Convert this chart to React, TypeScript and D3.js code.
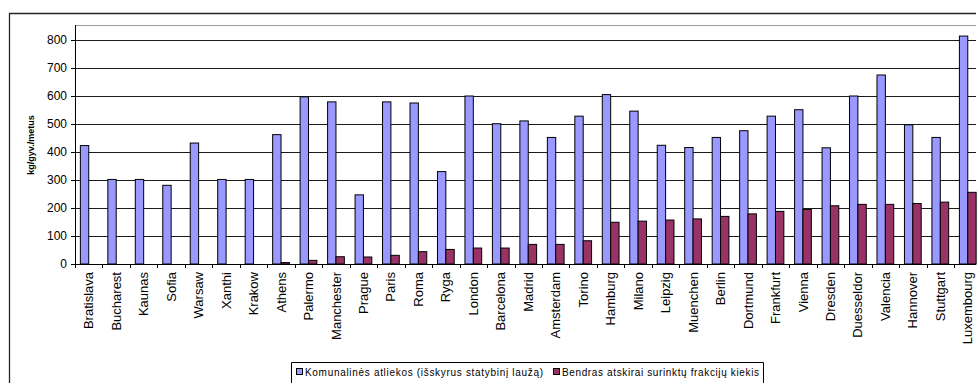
import React from "react";
import * as d3 from "d3";

// Cities, in the order they appear along the axis
const cities: string[] = [
  "Bratislava", "Bucharest", "Kaunas", "Sofia", "Warsaw", "Xanthi", "Krakow",
  "Athens", "Palermo", "Manchester", "Prague", "Paris", "Roma", "Ryga",
  "London", "Barcelona", "Madrid", "Amsterdam", "Torino", "Hamburg", "Milano",
  "Leipzig", "Muenchen", "Berlin", "Dortmund", "Frankfurt", "Vienna", "Dresden",
  "Duesseldor", "Valencia", "Hannover", "Stuttgart", "Luxembourg",
];

// Municipal waste, kg per inhabitant per year
const municipalWaste: number[] = [
  423, 302, 302, 281, 432, 302, 302,
  462, 597, 579, 247, 579, 575, 330,
  600, 501, 511, 452, 528, 605, 546,
  424, 416, 452, 476, 528, 551, 415,
  600, 675, 497, 452, 814,
];

// Separately collected fractions, kg per inhabitant per year (none reported for the first seven)
const separateCollection: (number | null)[] = [
  null, null, null, null, null, null, null,
  5, 13, 26, 25, 31, 44, 52,
  57, 57, 70, 70, 83, 149, 153,
  157, 161, 170, 179, 188, 195, 208,
  213, 213, 216, 221, 256,
];

const yTicks: number[] = [0, 100, 200, 300, 400, 500, 600, 700, 800];

const seriesNames: string[] = [
  "Komunalinės atliekos (išskyrus statybinį laužą)",
  "Bendras atskirai surinktų frakcijų kiekis",
];
const seriesColors: string[] = ["#9999FF", "#993366"];

const FONT = "Arial, 'Liberation Sans', Helvetica, sans-serif";

export default function App() {
  const W = 978;
  const H = 383;
  const edge = 976;

  const plotLeft = 75;
  const plotTop = 25;
  const plotBottom = 264;
  const step = 27.47;
  const plotRight = plotLeft + step * cities.length;

  const x = d3.scaleBand<string>().domain(cities).range([plotLeft, plotRight]).padding(0);
  const inner = d3
    .scaleBand<string>()
    .domain(["a", "b"])
    .range([0, x.bandwidth()])
    .paddingInner(0)
    .paddingOuter(0.64);
  const y = d3.scaleLinear().domain([0, 800]).range([plotBottom, 40]);

  return (
    <svg
      width={W}
      height={H}
      style={{ position: "absolute", left: 0, top: 0, background: "#fff" }}
      fontFamily={FONT}
    >
      {/* chart frame: top and left edges */}
      <path d={`M9.5,${H} V13.5 H${edge}`} fill="none" stroke="#262626" strokeWidth={1.3} />

      {/* plot area top border */}
      <line x1={plotLeft} x2={edge} y1={plotTop + 0.5} y2={plotTop + 0.5} stroke="#9a9a9a" strokeWidth={1} />

      {/* horizontal gridlines */}
      {yTicks.filter((t) => t > 0).map((t) => (
        <line
          key={"g" + t}
          x1={plotLeft}
          x2={edge}
          y1={Math.round(y(t)) + 0.5}
          y2={Math.round(y(t)) + 0.5}
          stroke="#1a1a1a"
          strokeWidth={1}
        />
      ))}

      {/* bars */}
      {cities.map((c, i) => {
        const x0 = x(c)!;
        const v1 = municipalWaste[i];
        const v2 = separateCollection[i];
        return (
          <g key={c}>
            <rect
              x={x0 + inner("a")!}
              y={y(v1)}
              width={inner.bandwidth()}
              height={y(0) - y(v1)}
              fill={seriesColors[0]}
              stroke="#000"
              strokeWidth={1}
            />
            {v2 != null && (
              <rect
                x={x0 + inner("b")!}
                y={y(v2)}
                width={inner.bandwidth()}
                height={y(0) - y(v2)}
                fill={seriesColors[1]}
                stroke="#000"
                strokeWidth={1}
              />
            )}
          </g>
        );
      })}

      {/* y axis */}
      <line x1={plotLeft + 0.5} x2={plotLeft + 0.5} y1={plotTop} y2={plotBottom + 0.5} stroke="#000" />
      {yTicks.map((t) => (
        <g key={"y" + t}>
          <line x1={plotLeft - 4} x2={plotLeft} y1={Math.round(y(t)) + 0.5} y2={Math.round(y(t)) + 0.5} stroke="#000" />
          <text x={plotLeft - 8} y={y(t)} dy="0.35em" textAnchor="end" fontSize={12} fill="#000">
            {t}
          </text>
        </g>
      ))}
      <text
        transform={`translate(31,145) rotate(-90)`}
        textAnchor="middle"
        dy="0.35em"
        fontSize={9}
        fontWeight="bold"
        fill="#000"
      >
        kg/gyv./metus
      </text>

      {/* x axis */}
      <line x1={plotLeft} x2={edge} y1={plotBottom + 0.5} y2={plotBottom + 0.5} stroke="#000" />
      {cities.map((c) => (
        <line
          key={"t" + c}
          x1={Math.round(x(c)!) + 0.5}
          x2={Math.round(x(c)!) + 0.5}
          y1={plotBottom}
          y2={plotBottom + 4}
          stroke="#000"
        />
      ))}
      {cities.map((c) => (
        <text
          key={"l" + c}
          transform={`translate(${x(c)! + x.bandwidth() / 2},${plotBottom + 8}) rotate(-90)`}
          textAnchor="end"
          dy="0.35em"
          fontSize={13}
          fill="#000"
        >
          {c}
        </text>
      ))}

      {/* legend */}
      <path d={`M291.5,${H} V362.5 H763.5 V${H}`} fill="none" stroke="#000" strokeWidth={1} />
      {seriesNames.map((name, i) => {
        const lx = i === 0 ? 296 : 553;
        const len = i === 0 ? 238 : 197;
        return (
          <g key={name}>
            <rect x={lx + 0.5} y={368.5} width={6} height={6} fill={seriesColors[i]} stroke="#000" />
            <text
              x={lx + 9}
              y={372}
              dy="0.35em"
              fontSize={10}
              fill="#000"
              textLength={len}
              lengthAdjust="spacing"
            >
              {name}
            </text>
          </g>
        );
      })}
    </svg>
  );
}
